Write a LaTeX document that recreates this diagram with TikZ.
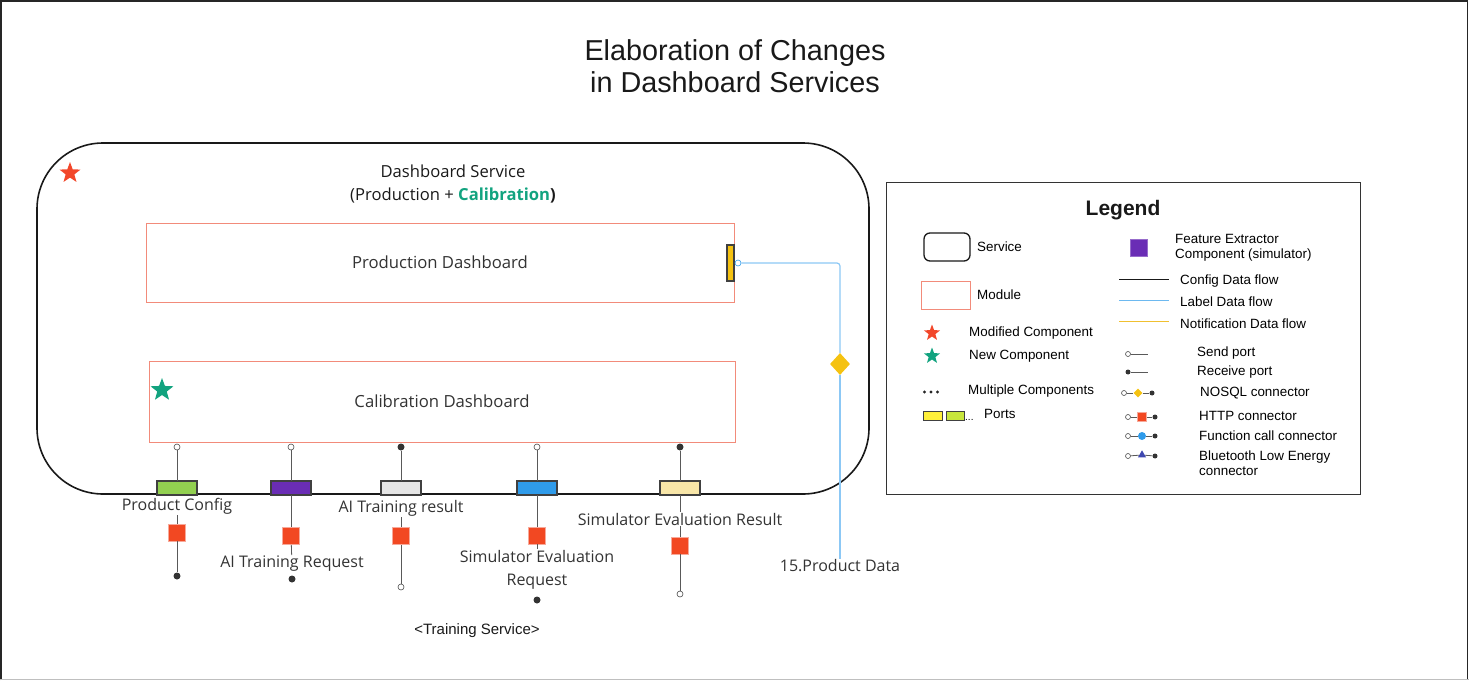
\documentclass[tikz,border=0pt]{standalone}
\usepackage{fontspec}
\setmainfont{Open Sans}
\newfontfamily\arialfont{Liberation Sans}
\usetikzlibrary{shapes.geometric,positioning}

\definecolor{modred}{HTML}{F2472A}
\definecolor{newteal}{HTML}{12A37F}
\definecolor{modline}{HTML}{F28B7A}
\definecolor{httpred}{HTML}{F24822}
\definecolor{httpedge}{HTML}{F7A99A}
\definecolor{pgreen}{HTML}{92D050}
\definecolor{ppurple}{HTML}{6A2DB5}
\definecolor{pgray}{HTML}{E6E6E6}
\definecolor{pblue}{HTML}{2F9BEA}
\definecolor{pcream}{HTML}{F8E6A8}
\definecolor{pgold}{HTML}{F5C211}
\definecolor{flowblue}{HTML}{8CC8F5}
\definecolor{notegold}{HTML}{F0C030}
\definecolor{lgyellow}{HTML}{FFF03A}
\definecolor{lglime}{HTML}{C8E63C}
\definecolor{bleblue}{HTML}{3F48B0}

\begin{document}
\begin{tikzpicture}[x=1pt,y=-1pt,
    font=\fontsize{16}{23}\selectfont, text=black!80,
    service/.style={draw=black!90,line width=1.6pt,rounded corners=66pt,inner sep=0pt,outer sep=0pt},
    module/.style={draw=modline,line width=1pt,inner sep=0pt,outer sep=0pt,font=\fontsize{16.7}{20}\selectfont},
    port/.style={draw=black!75,line width=1.2pt,minimum width=40,minimum height=14,inner sep=0pt,outer sep=0pt},
    sendport/.style={circle,draw=black!70,fill=white,line width=0.6pt,minimum size=6,inner sep=0pt},
    recvport/.style={circle,fill=black!80,minimum size=7,inner sep=0pt},
    http/.style={fill=httpred,draw=httpedge,line width=0.8pt,minimum size=17,inner sep=0pt},
    conn/.style={draw=black!65,line width=0.8pt},
    labelflow/.style={draw=flowblue,line width=1.2pt},
    lbl/.style={align=center,inner sep=1pt},
    modstar/.style={star,star points=5,star point ratio=2.4,inner sep=0pt},
    legtxt/.style={font=\arialfont\fontsize{13.4}{15}\selectfont,text=black,anchor=west,align=left,inner sep=0pt}
]
\path[use as bounding box] (0,0) rectangle (1469,680);
% outer frame of the sheet
\draw[black!85,line width=1.5pt] (0.75,680) -- (0.75,0.75) -- (1467.6,0.75) -- (1467.6,680);
\draw[black!25,line width=1pt] (0,679.5) -- (1469,679.5);

\node[font=\arialfont\fontsize{28.8}{32}\selectfont,text=black!90,align=center] (title) at (735,66)
    {Elaboration of Changes\\in Dashboard Services};

% Dashboard service with its two modules
\node[service,minimum width=832,minimum height=351] (svc) at (453,318.5) {};
\node[lbl,font=\fontsize{16.6}{23}\selectfont,text=black!90] (svcL) at (453,184)
    {Dashboard Service\\(Production + \textbf{\textcolor{newteal}{Calibration})}};
\node[modstar,fill=modred,minimum size=22] (svcStar) at (70,173) {};
\node[module,minimum width=588,minimum height=79] (prod) at (440,262.5) {Production Dashboard};
\node[module,minimum width=586,minimum height=81] (calib) at (442,401.5) {Calibration Dashboard};
\node[modstar,fill=newteal,minimum size=24] (calStar) at (162,390) {};

% notification port of the production module
\node[port,fill=pgold,minimum width=7,minimum height=36] (prodP) at (730.5,263) {};
\node[sendport,draw=pblue] (prodS) at (738,263) {};
\node[diamond,fill=pgold,minimum width=20,minimum height=22,inner sep=0pt] (prodD) at (840,364) {};
\node[lbl] (prodL) at (840,566) {15.Product Data};
\draw[labelflow,rounded corners=3pt] (prodS) -| (prodD);
\draw[labelflow] (prodD) -- (prodL);

% ports towards the training service
\node[sendport] (pcS) at (177,447) {};
\node[port,fill=pgreen] (pcP) at (177,488) {};
\node[lbl] (pcL) at (177,506) {Product Config};
\node[http] (pcH) at (177,532.5) {};
\node[recvport] (pcR) at (177,576) {};
\draw[conn] (pcS) -- (pcP);
\draw[conn] (pcL) -- (pcH);
\draw[conn] (pcH) -- (pcR);

\node[sendport] (atqS) at (291,447) {};
\node[port,fill=ppurple] (atqP) at (291,488) {};
\node[http] (atqH) at (291,536) {};
\node[lbl] (atqL) at (292,564) {AI Training Request};
\node[recvport] (atqR) at (292,579) {};
\draw[conn] (atqS) -- (atqP);
\draw[conn] (atqP) -- (atqH);
\draw[conn] (atqH) -- (atqL);

\node[recvport] (atrS) at (401,447) {};
\node[port,fill=pgray] (atrP) at (401,488) {};
\node[lbl] (atrL) at (401,508) {AI Training result};
\node[http] (atrH) at (401,536) {};
\node[sendport] (atrR) at (401,587) {};
\draw[conn] (atrS) -- (atrP);
\draw[conn] (atrL) -- (atrH);
\draw[conn] (atrH) -- (atrR);

\node[sendport] (serS) at (537,447) {};
\node[port,fill=pblue] (serP) at (537,488) {};
\node[http] (serH) at (537,535.5) {};
\node[lbl] (serL) at (537,570) {Simulator Evaluation\\Request};
\node[recvport] (serR) at (537,600) {};
\draw[conn] (serS) -- (serP);
\draw[conn] (serP) -- (serH);
\draw[conn] (serH) -- (serL);

\node[recvport] (sesS) at (680,447) {};
\node[port,fill=pcream] (sesP) at (680,488) {};
\node[lbl] (sesL) at (680,519) {Simulator Evaluation Result};
\node[http] (sesH) at (680,545.5) {};
\node[sendport] (sesR) at (680,594) {};
\draw[conn] (sesS) -- (sesP);
\draw[conn] (sesP) -- (sesL);
\draw[conn] (sesL) -- (sesH);
\draw[conn] (sesH) -- (sesR);

\node[font=\arialfont\fontsize{15}{18}\selectfont,text=black!90] (train) at (477,631) {<Training Service>};

% legend
\node[draw=black!80,line width=0.8pt,minimum width=474,minimum height=312,inner sep=0pt] (leg) at (1123,338) {};
\node[font=\arialfont\bfseries\fontsize{21}{24}\selectfont,text=black!90] (legT) at (1123,210) {Legend};

\node[draw=black!90,line width=1.3pt,rounded corners=6pt,minimum width=46,minimum height=28,inner sep=0pt] (lgSvc) at (947,247) {};
\node[legtxt] (lgSvcT) at (977,247) {Service};
\node[draw=modline,line width=0.9pt,minimum width=49,minimum height=28,inner sep=0pt] (lgMod) at (945.5,295) {};
\node[legtxt] (lgModT) at (977,295) {Module};
\node[modstar,fill=modred,minimum size=17] (lgMs) at (932,333) {};
\node[legtxt] (lgMsT) at (969,333) {Modified Component};
\node[modstar,fill=newteal,minimum size=17] (lgNs) at (932,356) {};
\node[legtxt] (lgNsT) at (969,356) {New Component};
\foreach \i in {0,1,2}
    \fill[black!85] (924.5+6.5*\i,392) circle (1.7);
\node[legtxt] (lgMcT) at (968,391) {Multiple Components};
\node[draw=black!75,line width=1pt,fill=lgyellow,minimum width=19,minimum height=9,inner sep=0pt] (lgP1) at (932.5,415.5) {};
\node[draw=black!75,line width=1pt,fill=lglime,minimum width=18,minimum height=9,inner sep=0pt] (lgP2) at (955,415.5) {};
\node[legtxt,anchor=south west,font=\arialfont\fontsize{10}{12}\selectfont] (lgPd) at (965,421) {...};
\node[legtxt] (lgPT) at (984,414) {Ports};

\node[fill=ppurple,draw=ppurple!70,minimum size=17,inner sep=0pt] (lgFe) at (1139,247.5) {};
\node[legtxt] (lgFeT) at (1175,247.5) {Feature Extractor\\Component (simulator)};
\coordinate (lgC1) at (1119,279); \coordinate (lgC2) at (1169,279);
\draw[black!90,line width=0.8pt] (lgC1) -- (lgC2);
\node[legtxt] (lgCT) at (1180,281) {Config Data flow};
\coordinate (lgL1) at (1119,300); \coordinate (lgL2) at (1169,300);
\draw[pblue!70,line width=0.8pt] (lgL1) -- (lgL2);
\node[legtxt] (lgLT) at (1180,302) {Label Data flow};
\coordinate (lgN1) at (1119,321); \coordinate (lgN2) at (1169,321);
\draw[notegold,line width=0.8pt] (lgN1) -- (lgN2);
\node[legtxt] (lgNT) at (1180,324) {Notification Data flow};

\node[sendport,minimum size=5] (lgSp) at (1128,354) {};
\coordinate (lgSpE) at (1148,354);
\draw[conn] (lgSp) -- (lgSpE);
\node[legtxt] (lgSpT) at (1197,353) {Send port};
\node[recvport,minimum size=5] (lgRp) at (1128,372) {};
\coordinate (lgRpE) at (1148,372);
\draw[conn] (lgRp) -- (lgRpE);
\node[legtxt] (lgRpT) at (1197,372) {Receive port};

\node[sendport,minimum size=5] (lgNoA) at (1124,393) {};
\node[diamond,fill=pgold,minimum size=9,inner sep=0pt] (lgNoB) at (1138,393) {};
\node[recvport,minimum size=5] (lgNoC) at (1152,393) {};
\draw[conn] (lgNoA) -- (lgNoB) -- (lgNoC);
\node[legtxt] (lgNoT) at (1200,393) {NOSQL connector};

\node[sendport,minimum size=5] (lgHtA) at (1128,417) {};
\node[http,minimum size=9] (lgHtB) at (1142,417) {};
\node[recvport,minimum size=5] (lgHtC) at (1155,417) {};
\draw[conn] (lgHtA) -- (lgHtB) -- (lgHtC);
\node[legtxt] (lgHtT) at (1199,416) {HTTP connector};

\node[sendport,minimum size=5] (lgFcA) at (1128,436) {};
\node[circle,fill=pblue,minimum size=8,inner sep=0pt] (lgFcB) at (1142,436) {};
\node[recvport,minimum size=5] (lgFcC) at (1155,436) {};
\draw[conn] (lgFcA) -- (lgFcB) -- (lgFcC);
\node[legtxt] (lgFcT) at (1199,436) {Function call connector};

\node[sendport,minimum size=5] (lgBlA) at (1128,456) {};
\node[isosceles triangle,isosceles triangle apex angle=60,shape border rotate=90,fill=bleblue,minimum size=7,inner sep=0pt] (lgBlB) at (1142,455) {};
\node[recvport,minimum size=5] (lgBlC) at (1155,456) {};
\draw[conn] (lgBlA) -- (lgBlB) -- (lgBlC);
\node[legtxt] (lgBlT) at (1199,463.5) {Bluetooth Low Energy\\connector};
\end{tikzpicture}
\end{document}
